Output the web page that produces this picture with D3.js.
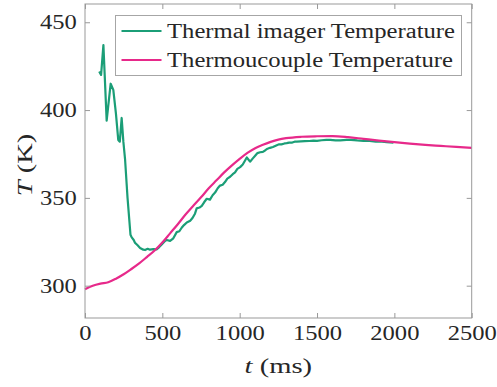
<!DOCTYPE html>
<html>
<head>
<meta charset="utf-8">
<script src="https://cdn.jsdelivr.net/npm/d3@7/dist/d3.min.js"></script>
<style>
html,body{margin:0;padding:0;background:#fff;}
svg{display:block;}
text{font-family:"Liberation Serif","Times New Roman",serif;fill:#262626;}
</style>
</head>
<body>
<svg id="chart" width="497" height="387"></svg>
<script>
const xTicks = [0, 500, 1000, 1500, 2000, 2500];
const yTicks = [300, 350, 400, 450];
const seriesNames = ["Thermal imager Temperature", "Thermoucouple Temperature"];
const seriesColors = ["#1b9e77", "#e7298a"];

const imagerTime = [92, 104, 119, 140, 166, 183, 200, 215, 225, 237, 248, 259, 275, 294, 302, 315, 323, 340, 356, 377, 388, 405, 420, 442, 463, 480, 496, 517, 528, 550, 571, 593, 610, 625, 640, 658, 680, 695, 711, 722, 740, 755, 770, 787, 808, 825, 841, 858, 873, 890, 905, 920, 938, 955, 970, 985, 1003, 1020, 1046, 1067, 1085, 1100, 1115, 1132, 1150, 1164, 1180, 1196, 1215, 1240, 1255, 1270, 1290, 1304, 1320, 1340, 1355, 1369, 1395, 1420, 1450, 1477, 1500, 1530, 1560, 1585, 1620, 1650, 1690, 1720, 1760, 1800, 1840, 1880, 1920, 1950, 1994];
const imagerTemp = [422, 420, 437, 394, 415, 411.5, 398, 383, 382, 395.5, 382, 372, 350, 329, 327.5, 326, 324.5, 323, 321.5, 320.5, 320.3, 321, 320.5, 320.8, 320.7, 322, 323.5, 325.5, 326, 325.5, 327, 330.5, 331, 333, 334.5, 336, 337, 338.5, 341, 344, 344.5, 345.5, 347.5, 349.5, 349, 351.5, 353, 355.5, 357, 357.5, 359, 361, 362, 363.5, 364.5, 366.5, 367.5, 369, 373, 370.6, 372.5, 374, 375.5, 376, 376.2, 377, 378, 378.5, 379, 380, 380.5, 380.5, 381, 381.2, 381.5, 381.5, 382, 382, 382.2, 382.3, 382.4, 382.6, 382.5, 382.8, 383, 383, 382.7, 382.8, 383, 383, 382.7, 382.5, 382.4, 382, 382, 381.8, 381.4];

const coupleTime = [0, 50, 100, 150, 200, 250, 300, 350, 400, 450, 500, 550, 600, 650, 700, 750, 800, 850, 900, 950, 1000, 1050, 1100, 1150, 1200, 1250, 1300, 1400, 1500, 1600, 1700, 1800, 1900, 2000, 2100, 2200, 2300, 2400, 2500];
const coupleTemp = [298, 300, 301.2, 302, 304, 306.5, 309.5, 312.7, 316.3, 320, 324.6, 329.8, 335, 340.5, 345.5, 350.3, 355.5, 360, 364.5, 368.5, 372.2, 375.6, 378.3, 380.2, 381.9, 383.2, 384, 384.8, 385.1, 385.2, 384.6, 383.6, 382.6, 381.7, 380.9, 380.2, 379.6, 379, 378.5];

const svg = d3.select("#chart");
const L = 85, R = 471.7, T = 4, B = 318;
const x = d3.scaleLinear().domain([0, 2500]).range([L, R]);
const y = d3.scaleLinear().domain([281.6, 460.4]).range([B, T]);

const axisColor = "#999999";
const tickLen = 5;

const imagerData = imagerTime.map((t, i) => [t, imagerTemp[i]]);
const coupleData = coupleTime.map((t, i) => [t, coupleTemp[i]]);

svg.append("path").datum(imagerData)
  .attr("fill", "none").attr("stroke", seriesColors[0]).attr("stroke-width", 2.2)
  .attr("stroke-linejoin", "round")
  .attr("d", d3.line().x(d => x(d[0])).y(d => y(d[1])));

svg.append("path").datum(coupleData)
  .attr("fill", "none").attr("stroke", seriesColors[1]).attr("stroke-width", 2.2)
  .attr("d", d3.line().curve(d3.curveMonotoneX).x(d => x(d[0])).y(d => y(d[1])));

const gx = svg.append("g").attr("transform", `translate(0,${B})`)
  .call(d3.axisBottom(x).tickValues(xTicks).tickSize(-tickLen).tickPadding(7).tickFormat(d3.format("d")));
const gxTop = svg.append("g").attr("transform", `translate(0,${T})`)
  .call(d3.axisTop(x).tickValues(xTicks).tickSize(-tickLen).tickFormat(""));
const gy = svg.append("g").attr("transform", `translate(${L},0)`)
  .call(d3.axisLeft(y).tickValues(yTicks).tickSize(-tickLen).tickPadding(7).tickFormat(d3.format("d")));
const gyR = svg.append("g").attr("transform", `translate(${R},0)`)
  .call(d3.axisRight(y).tickValues(yTicks).tickSize(-tickLen).tickFormat(""));

[gx, gxTop, gy, gyR].forEach(g => {
  g.select(".domain").remove();
  g.selectAll(".tick line").attr("stroke", axisColor).attr("stroke-width", 1);
  g.selectAll(".tick text").style("font-family", "'Liberation Serif', serif").style("font-size", "21px")
    .attr("fill", "#262626").attr("transform", "scale(1.17,1)");
});

svg.append("rect").attr("x", L).attr("y", T).attr("width", R - L).attr("height", B - T)
  .attr("fill", "none").attr("stroke", axisColor).attr("stroke-width", 1);

const xl = svg.append("text").attr("transform", `translate(${(L + R) / 2},373) scale(1.3,1)`)
  .attr("text-anchor", "middle").style("font-size", "22px");
xl.append("tspan").style("font-style", "italic").text("t");
xl.append("tspan").text(" (ms)");

const yl = svg.append("text").attr("transform", `translate(32,165) rotate(-90) scale(1.3,1)`)
  .attr("text-anchor", "middle").style("font-size", "22px");
yl.append("tspan").style("font-style", "italic").text("T");
yl.append("tspan").text(" (K)");

const lg = svg.append("g");
lg.append("rect").attr("x", 115.5).attr("y", 15.5).attr("width", 346).attr("height", 60)
  .attr("fill", "#fff").attr("stroke", "#a6a6a6").attr("stroke-width", 1);
const rowsY = [31, 60];
const textLens = [288, 286];
seriesNames.forEach((name, i) => {
  lg.append("line").attr("x1", 121.5).attr("x2", 161.5).attr("y1", rowsY[i]).attr("y2", rowsY[i])
    .attr("stroke", seriesColors[i]).attr("stroke-width", 2.2);
  lg.append("text").attr("x", 167).attr("y", rowsY[i] + 7).style("font-size", "20px")
    .attr("textLength", textLens[i]).attr("lengthAdjust", "spacingAndGlyphs").text(name);
});
</script>
</body>
</html>
